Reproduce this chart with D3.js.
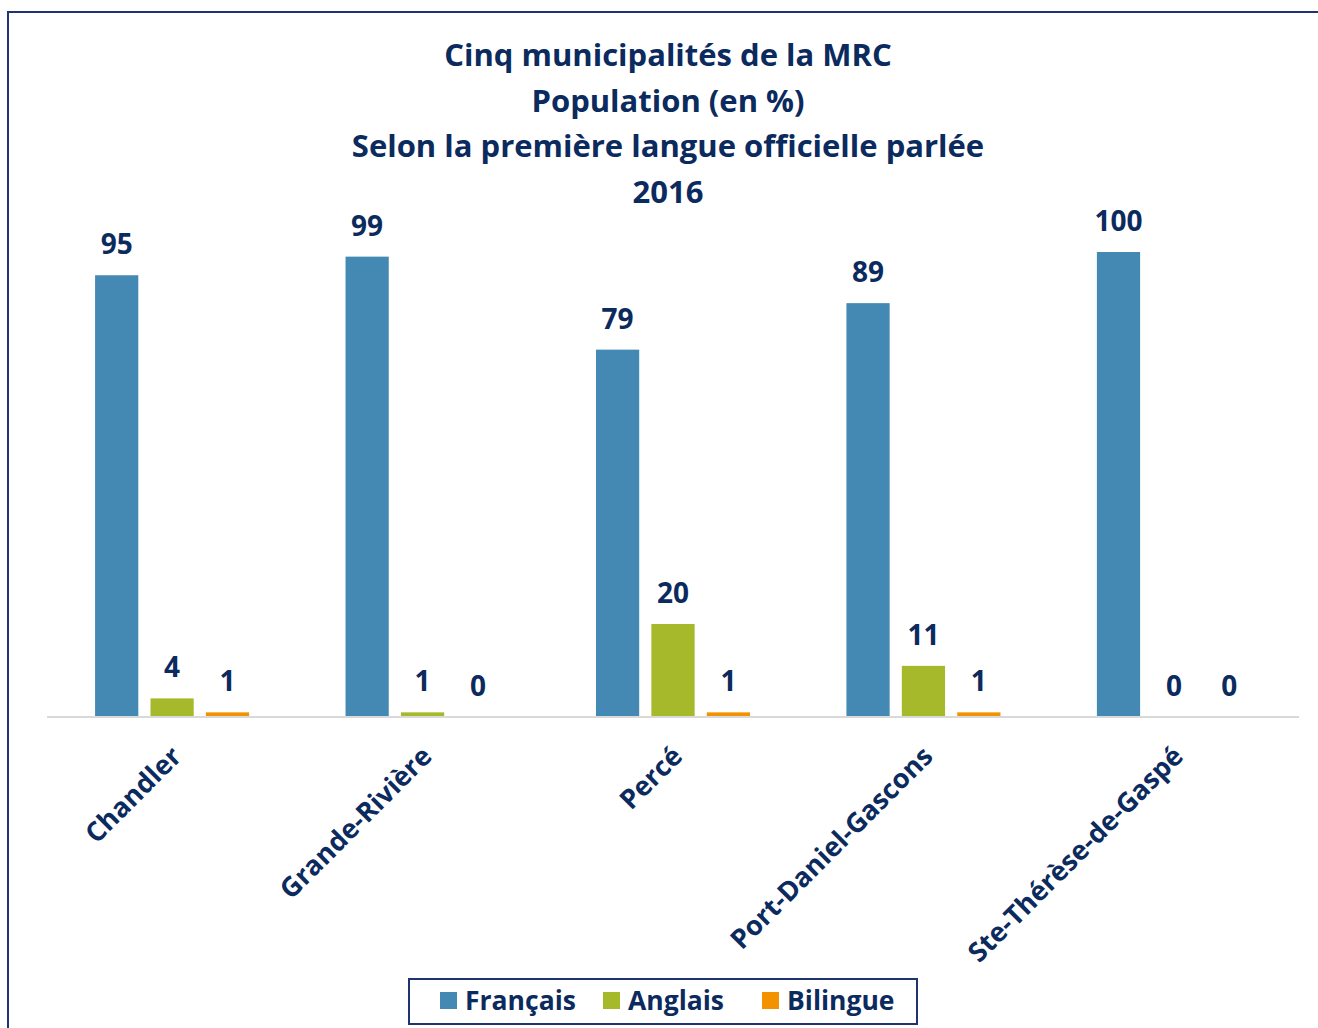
<!DOCTYPE html>
<html>
<head>
<meta charset="utf-8">
<script src="https://cdn.jsdelivr.net/npm/d3@7"></script>
<style>
  body { margin: 0; background: #fff; }
  text { font-family: "Open Sans", "Noto Sans", sans-serif; font-weight: bold; fill: #0b2a5e; }
</style>
</head>
<body>
<div id="chart"></div>
<script>
// Données
const municipalites = ['Chandler', 'Grande-Rivière', 'Percé', 'Port-Daniel-Gascons', 'Ste-Thérèse-de-Gaspé'];
const langues = ['Français', 'Anglais', 'Bilingue'];
const francais = [95, 99, 79, 89, 100];
const anglais = [4, 1, 20, 11, 0];
const bilingue = [1, 0, 1, 1, 0];
const titre = ['Cinq municipalités de la MRC', 'Population (en %)', 'Selon la première langue officielle parlée', '2016'];
const couleurs = ['#4389b4', '#a5b92a', '#f39200'];

const W = 1318, H = 1028;
const margin = {top: 252, right: 19, bottom: 311, left: 47};
const width = W - margin.left - margin.right;
const height = H - margin.top - margin.bottom;

const svg = d3.select('#chart').append('svg')
    .attr('width', W)
    .attr('height', H);

// Cadre
svg.append('rect')
    .attr('x', 8).attr('y', 12)
    .attr('width', W + 20).attr('height', H + 20)
    .attr('fill', 'none')
    .attr('stroke', '#1f3370')
    .attr('stroke-width', 2);

// Titre
svg.append('g').selectAll('text')
    .data(titre)
    .enter().append('text')
    .attr('x', 668)
    .attr('y', (d, i) => 66 + i * 45.5)
    .attr('text-anchor', 'middle')
    .style('font-size', '31px')
    .text(d => d);

const g = svg.append('g')
    .attr('transform', `translate(${margin.left},${margin.top})`);

const rows = municipalites.map((m, i) => ({
    nom: m,
    valeurs: [francais[i], anglais[i], bilingue[i]]
}));

// Échelles
const x0 = d3.scaleBand()
    .domain(municipalites)
    .range([0, width])
    .paddingInner(0.385)
    .paddingOuter(0.192);

const x1 = d3.scaleBand()
    .domain(langues)
    .range([0, x0.bandwidth()])
    .paddingInner(0.22);

const y = d3.scaleLinear()
    .domain([0, 100])
    .range([height, 0]);

// Barres
const grp = g.selectAll('.groupe')
    .data(rows)
    .enter().append('g')
    .attr('class', 'groupe')
    .attr('transform', d => `translate(${x0(d.nom)},0)`);

grp.selectAll('rect')
    .data(d => d.valeurs.map((v, k) => ({langue: langues[k], valeur: v, k: k})))
    .enter().append('rect')
    .attr('x', d => x1(d.langue))
    .attr('y', d => y(d.valeur))
    .attr('width', x1.bandwidth())
    .attr('height', d => height - y(d.valeur))
    .attr('fill', d => couleurs[d.k]);

// Étiquettes de valeurs
grp.selectAll('.val')
    .data(d => d.valeurs.map((v, k) => ({langue: langues[k], valeur: v})))
    .enter().append('text')
    .attr('class', 'val')
    .attr('x', d => x1(d.langue) + x1.bandwidth() / 2)
    .attr('y', d => y(d.valeur) - 21)
    .attr('text-anchor', 'middle')
    .style('font-size', '28px')
    .text(d => d.valeur);

// Ligne de base
g.append('line')
    .attr('x1', 0).attr('x2', width)
    .attr('y1', height).attr('y2', height)
    .attr('stroke', '#d9d9d9')
    .attr('stroke-width', 2);

// Axe des catégories
const xAxis = g.append('g')
    .attr('transform', `translate(0,${height})`)
    .call(d3.axisBottom(x0).tickSize(0).tickPadding(0));
xAxis.select('.domain').remove();
xAxis.selectAll('text')
    .attr('x', 0).attr('y', 0).attr('dy', 0)
    .style('text-anchor', 'end')
    .style('font-size', '27px')
    .attr('fill', '#0b2a5e')
    .attr('transform', 'translate(11,41) rotate(-45)');

// Légende
const legend = svg.append('g')
    .attr('transform', 'translate(409,979)');

legend.append('rect')
    .attr('width', 508).attr('height', 45)
    .attr('fill', '#fff')
    .attr('stroke', '#1f3370')
    .attr('stroke-width', 2);

const legX = [31, 194, 353];
langues.forEach((l, i) => {
    const lg = legend.append('g')
        .attr('transform', `translate(${legX[i]}, 13)`);
    lg.append('rect')
        .attr('width', 17).attr('height', 17)
        .attr('fill', couleurs[i]);
    lg.append('text')
        .attr('x', 25)
        .attr('y', 8.5)
        .attr('dy', '.35em')
        .style('font-size', '26.5px')
        .text(l);
});
</script>
</body>
</html>
